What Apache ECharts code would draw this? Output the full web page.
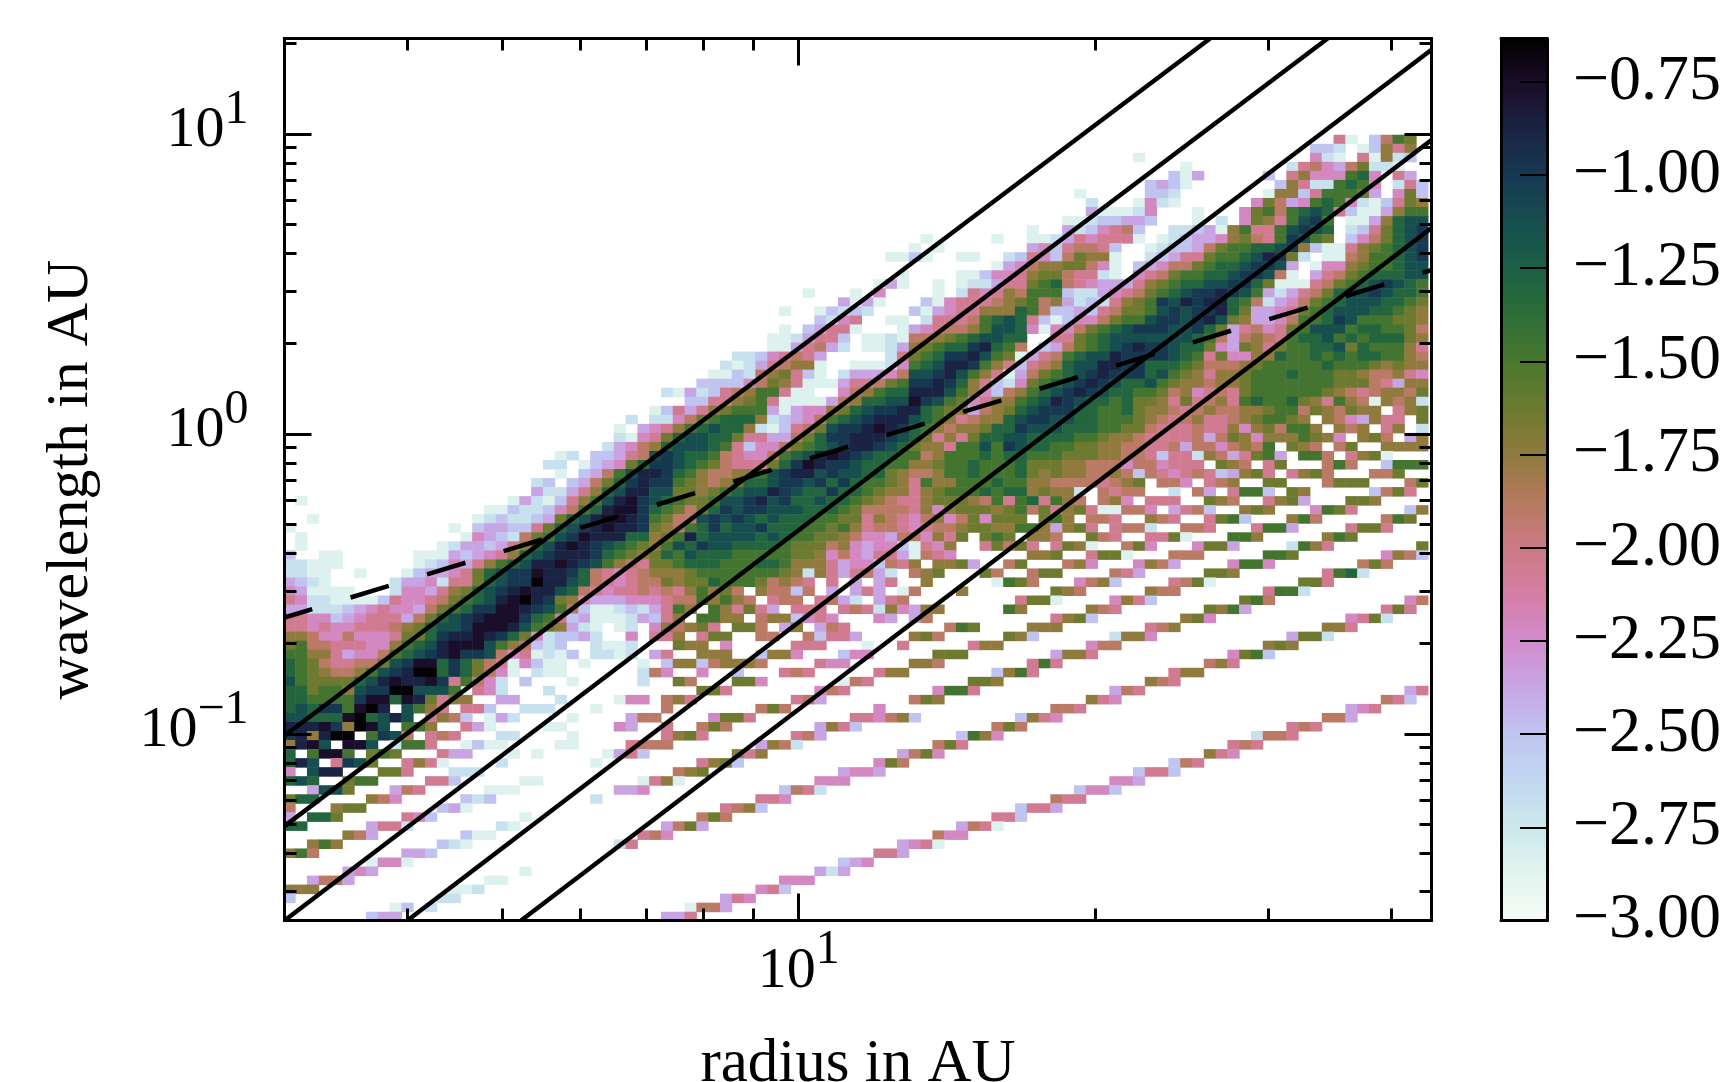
<!DOCTYPE html>
<html>
<head>
<meta charset="utf-8">
<style>
  html, body { margin: 0; background: #fff; }
  #chart { width: 1727px; height: 1082px; }
</style>
<script src="https://cdn.jsdelivr.net/npm/echarts@6/dist/echarts.min.js"></script>
</head>
<body>
<div id="chart"></div>
<script>
// colour level letters and the log value each one stands for
var levelLetters = "abcdefghijklmnop".split("");
var levelValues = [-2.85, -2.7, -2.5, -2.37, -2.22, -2.05, -1.9, -1.75, -1.63, -1.47, -1.3, -1.12, -1.0, -0.88, -0.76, -0.65];

// colourbar stops, from -3.00 up to the top of the bar
var colorStops = ["#f7fcf7", "#e2f4ee", "#cbe8ec", "#c2d8f0", "#bfc4f0", "#c8a6e4", "#d28ccc", "#d47ea6", "#cd7a86", "#b67a60",
  "#917a3e", "#6d7a30", "#4b782e", "#2e6e36", "#1c6044", "#17504e", "#163a52", "#1a2444", "#1a0e2a", "#000000"];

// cells, one string per row from the top: "column:levels" runs
var rowsUpper = [
  "89:fa 92:cgji",
  "87:ccb 91:achfh",
  "72:a 87:eba 91:fahbc",
  "76:a 85:bfgedgibba",
  "75:cad 83:c 85:fheeejke 94:fd",
  "73:cdca 84:chfbbjkje 94:bfc",
  "67:a 73:ccb 83:ahhcfjjjid 94:eic",
  "68:b 72:aeba 82:eigdejkjebacfih",
  "68:daaabe 77:a 81:eijgjklkfcaadhjj",
  "66:aabccddc 77:a 79:b 81:eihfjlmj 90:aadhkll",
  "63:a 66:dbcefgc 75:bbcdahjffjlmlk 90:bcfiklm",
  "54:a 60:a 63:aabdfefffa 74:abcddehigfjmlji 90:cegiklm",
  "53:a 55:a 63:decfggfc 73:abccdgijjkklmhcaafhijklm",
  "51:aaca 57:aa 61:bcfecgihha 73:bcdffijjklnmib 88:aaghjjklm",
  "60:ade 63:ghhiigea 72:cdeggijkklmmld 87:aeehijjkll",
  "52:a 57:aaceef 63:hiigffba 72:efgijjkklmmlga 87:dfgijkkkll",
  "50:ada 55:a 57:abbdff 63:ijkgfedddfhijkkllmmkiaaafgijklmlkj",
  "44:a 48:a 50:e 55:a 57:bfefhg 63:jjjcbbdefgijklmmnmljdbdfgikllmlkkj",
  "47:dada 54:caefffghi 63:jghdbcbfhijmlnmnnkjgbdegijklllkkji",
  "42:a 45:acbcb 53:cadeffhhhk 63:jgccdcfgiijlmlmmnkiddefijklllkkjih",
  "45:cbef 51:aa 54:bfffgjklk 63:fcaceegijjlmmlmnlihddegjjkmljjjiih",
  "42:a 44:cdffa 52:adefgghjllk 63:eaeegijklmmmllmkidfgefijllljkkjjig",
  "41:aabdffc 49:aaba 53:gghijkllkk 65:ffijklllllllkjgdghgfjkkljkjkkkih",
  "41:aadfgdb 49:aabd 53:hijkkmnkjg 64:cdgijklmnmmlkkiedihfijjkklikjjjhf",
  "38:bbcefgfd 51:bf 53:ijkmmnljia 63:dfgjkllnmmmmlkjfieehhkjjkjkjkkjjhg",
  "37:babdfghha 48:aaabe 53:jklnnmjhfc 63:fghkllnnmmkkkjiggghijjjjjkjjjihihh",
  "36:aacbghifca 47:bdddeg 53:llmnljhfad 63:gijklmnmmmkljihfhhijjjkjjjiihgghfe",
  "35:ccccegihfaaadffgijkl 53:mmnmkhfcbe 63:ijklmnmlkkljihhghhijjjjjjjiiigfdhh",
  "32:badbcfghjjfaa 47:eghjkk 53:nnnljhecgh 63:jklmnmlkkjjighefgfijjjjjjihgfghhgi",
  "34:ccffhijfaaaadghkkllm 53:omljiefhhj 63:klnmlkkjkiihfifghfjkjjkihfjhgahghb"
];
var rowsMiddle = [
  "31:acfdfhijjjdadeehiklmmn 53:nkjihdghik 63:lmmmkkjjkihhgfghgghhijjgihgihh 94:fhi",
  "29:b 31:bbegijkkkhbcdegjklmnnn 53:lkjhfghhkl 63:mmllkkjjjihgfghffghijjih 88:hgedhff 96:i",
  "28:a 30:defhjklkkhbacfgilmmnonm 53:kjhghhikkm 63:lllkkkjjiigfffgffhehigjjh 89:hgh 93:fh 96:b",
  "28:baefikllkkiffddgikmmnnnml 53:kifhfikkll 63:kkkkjjihhgffffgdgihehhhjihe 91:hig 95:dh",
  "27:bdeghklllkjfceegijklmnnmlk 53:ihhfjjljml 63:kkjjiihhggffgdggeghgj 85:ihg 89:gi 93:hhhh",
  "23:ab 26:ccdfg 31:lmlkkjgfeegjklnonmlkkj 53:jghjjjkjkk 63:jjjiiihhggfcffbhgdfijd 86:jjg 90:fhia",
  "22:bb 25:acdeik 31:mmlkjigfffikmonmmlkkjj 53:hhijjkjjjk 63:iiihhgggeggefff 79:ihg 83:fi 88:gjg 93:cjjj",
  "23:a 25:cdgjln 31:nmkjhgghhjlmnnlmllkkih 53:gghjjkjjjk 63:ihihhgghgcgfefgfcdhif 85:fhig 92:ggi",
  "21:bc 24:cdgikmn 31:mmjihghikklmmlmkmkjjih 53:fjhhjjjkjj 63:hhggggfghi 74:gge 78:fgh 83:ii 88:giii 95:gi",
  "21:dbbdfhklnn 31:lliihijkllnmlkkmkkjihhfhijjjkjkk 63:hihhb 69:gfgg 75:b 77:gd 80:fjjc 85:ih 92:cgif",
  "1:a 19:adbacfhjlnom 31:lkjiijllmnlmkklkkjihgffhiiihgj 61:fjkfjhg 69:ghe 73:fff 78:ihg 83:fhid 90:iih",
  "17:aacbbcegjknoom 31:kjigikmlmmlllkkkjiggggfhehiiih 61:ijgifhifaagge 75:dfgc 81:hih 87:ejif 95:ch",
  "2:a 16:abcbbcdiklnoonm 31:jigglmlmlklkkkjjiifhgfeghegiei 61:ii 64:ijh 68:ggf 73:hgf 78:fijc 85:hjg 93:gji",
  "0:a 14:a 16:cddccfiklmnonnm 31:ihgjkmkllmkkkjjijhfggfefgghiih 61:hjjhdhif 70:fggb 76:ggf 82:fjjd 90:fiif",
  "1:a 15:aedcbgijlmonnnkk 31:hijnkllllklkjjiihgeedggehfi 59:ij 61:i 63:hhg 68:igf 73:ffia 80:jjh 88:hji",
  "1:a 13:abddcdfhklnonmlkji 31:hjlkmllkkkkjiiighedeec 53:afeh 59:fi 61:gif 65:fiha 71:gie 77:eiid 85:bjhf 96:i",
  "0:c 3:aa 11:aaadcdefhklmnnnmkjih 31:ikjlkkkjjjjjiihegedffdagfe 63:hhi 68:fiia 75:ggg 83:jji 93:ehgc",
  "0:bbaaa 11:abcedfhjklnnonmljhgf 31:iijkkkjjjkkjhhhfdeecgfh 55:hhid 61:gi 66:ghe 72:ehgd 80:ejje 91:gig",
  "0:bbaa 6:a 10:acddefiklmmonnmkgfefg 31:hhhijjjjjjjihbhfdfgdb 53:ghi 59:ig 63:gii 70:gfd 78:iih 88:fjkb",
  "0:dcba 9:bddebffiklmmpnnlkgfefg 31:gihiikjjjighgf 46:f 48:d 50:df 54:h 60:a 61:jig 67:eghc 75:fgia 86:iif",
  "0:edaaaa 9:beedfhiklmnonnlkgfeffg 31:fgfhjhig 40:hggcg 46:d 48:dfd 52:ag 57:h 65:ihg 73:hgg 83:fjjb",
  "0:febbaaaacfeefgijklnopnmihedddee 31:efggjhjhg 41:fgg 45:fgdb 50:dfg 62:fiia 70:ehfc 81:ijg 95:eg",
  "0:ddbbbcdefeedgijkmmoonmljgcaabcb 31:dfjh 36:jhfifd 43:fff 47:fgfbhedhh 61:jh 68:hgf 78:ihjd 93:fif",
  "0:ffeecdefffdgiklmnooomkjfcdaaabd 31:cfh 35:jjhh 40:ghhcefe 50:ed 53:dg 65:fhic 76:hie 90:efib",
  "0:ffefeefffghikllmooonljihdba 28:ab 31:ehghif 38:iig 42:dh 45:dgf 56:gji 63:hhh 73:fgh 88:hhf",
  "0:hhgeegeeefiikmnnonmkiebccdb 29:e 31:ffh 35:fii 40:gg 44:gcffd 53:hig 61:ihc 70:bhhe 85:diib",
  "0:ijggfffeehjklnoooljhgcbc 26:baab 33:ihh 37:e 43:fff 49:a 52:f 58:fhh 68:egg 83:hih",
  "0:jjhhfdeegjklmnommlgefabac 26:bbab 31:df 35:hhh 40:chhe 47:cee 55:iii 65:dhhf 80:eijc",
  "0:kjigffggilmookmkigfaecaa 25:a 30:a 32:chhcghhhg 45:fee 53:hhg 63:fjf 78:ghf"
];
var rowsLower = [
  "0:kjihgghjlmnppkmkigea 21:baa 30:b 31:ge 35:e 38:c 42:fgf 50:fhh 60:chjf 75:fhh",
  "0:ljiiiiklnonnomfjgeb 20:c 24:a 30:b 33:ig 38:iie 47:agf 58:iih 73:hgf",
  "0:kkijjhlmmpplllj 16:feb 22:b 35:iif 45:egf 55:ejjf 70:dgf 95:df",
  "0:kkjjjjmookonifhh 18:dd 23:b 28:aee 32:ghf 43:fgd 53:gih 68:hfe 93:gfc",
  "0:klkmmjopn 10:ljhf 15:ffc 20:bbb 26:a 32:g 40:gig 50:e 65:ggf 90:def",
  "0:llkkkopklnl 12:fhgc 17:adb 24:a 29:dgg 36:eiif 48:ffeghc 62:chfe 88:ggd",
  "0:nnnomhpol 10:jjh 15:fda 22:aa 28:ed 32:f 35:gig 45:dhfc 60:gig 85:fgf",
  "0:mnhnpp 7:jmlg 12:fgf 18:bb 24:a 32:fhif 43:fgd 57:cjhe 82:bggf",
  "0:hnol 5:ool 9:bjjf 15:aca 18:a 23:aa 29:fgg 32:g 40:dhgb 55:gif 80:fgf",
  "0:k 2:joo 5:j 7:iji 13:fdd 19:a 21:a 27:adfc 38:hfh 52:dgie 78:hfe",
  "0:knl 4:fmli 10:fhfa 18:b 26:a 35:fhic 50:eig 75:cgf",
  "0:e 2:lnn 8:iif 14:bbb 33:ghi 47:deed 72:cffc",
  "0:klk 5:ijj 12:ffc 20:aa 30:afha 45:eee 70:eed",
  "2:dlli 9:dgf 17:aaa 28:dde 42:cgfb 67:ceec",
  "0:ikk 7:hge 15:cbc 26:b 40:ffe 65:gff",
  "0:g 4:hii 13:cda 37:fghc 62:cffd",
  "0:d 2:kki 10:fec 20:a 35:gig 60:ffc",
  "0:kk 7:dffb 18:ba 32:dgid 57:dgfa",
  "5:hgd 15:caa 30:fge 55:gee",
  "2:hjh 13:cba 28:bf 52:defa",
  "0:hjg 10:ddc 50:ffd",
  "7:aeea 47:cde",
  "5:ded 20:a 45:dbd",
  "2:dggd 17:aa 42:eee",
  "0:hhh 14:aab 40:efc",
  "0:c 13:bb 37:dfe",
  "9:ac 12:b 34:aggd",
  "7:cdd 32:ddf"
];

// axis limits and ticks, in AU
var radiusLimits = [3, 44];
var wavelengthLimits = [0.0239, 20.81];
var radiusMajor = [10];
var radiusMinor = [4, 5, 6, 7, 8, 9, 20, 30, 40];
var wavelengthMajor = [0.1, 1, 10];
var wavelengthMinor = [0.03, 0.04, 0.05, 0.06, 0.07, 0.08, 0.09, 0.2, 0.3, 0.4, 0.5, 0.6, 0.7, 0.8, 0.9, 2, 3, 4, 5, 6, 7, 8, 9, 20];
var colorbarTicks = [-3, -2.75, -2.5, -2.25, -2, -1.75, -1.5, -1.25, -1, -0.75];

// reference lines: [radius, wavelength] end points
var solidLines = [
  [[3, 0.0987], [26.2, 20.81]],
  [[3, 0.0493], [34.5, 20.81]],
  [[3, 0.0239], [44, 19.1]],
  [[4, 0.0239], [44, 9.55]],
  [[5.22, 0.0239], [44, 4.86]]
];
var dashedLine = [[3, 0.2445], [44, 3.52]];

var FONT = '"Liberation Serif", "Times New Roman", serif';
var ROWS = 87, COLS = 97;

function buildCells() {
  var cells = [];
  rowsUpper.concat(rowsMiddle, rowsLower).forEach(function (row, r) {
    var byCol = {};
    row.split(" ").forEach(function (run) {
      var parts = run.split(":");
      var start = Number(parts[0]);
      parts[1].split("").forEach(function (ch, i) {
        byCol[start + i] = levelValues[levelLetters.indexOf(ch)];
      });
    });
    Object.keys(byCol).forEach(function (c) {
      if (Number(c) < COLS) {
        cells.push([Number(c), ROWS - 1 - r, byCol[c]]);
      }
    });
  });
  return cells;
}

function toLog(line) {
  return line.map(function (p) { return [Math.log10(p[0]), Math.log10(p[1])]; });
}

function powerLabel(v) {
  var e = Math.round(v);
  return "{b|10}{s|" + (e < 0 ? "\u2212" + (-e) : e) + "}";
}

function indexList(n) {
  var out = [];
  for (var i = 0; i < n; i++) out.push(i);
  return out;
}

// one log-scaled axis edge; major ticks are long, minor ones short
function edgeAxis(position, limits, values, tickLen, label) {
  return {
    type: "value",
    gridIndex: 1,
    position: position,
    min: Math.log10(limits[0]),
    max: Math.log10(limits[1]),
    z: 10,
    splitLine: { show: false },
    axisLine: { show: true, onZero: false, lineStyle: { color: "#000", width: 3 } },
    axisTick: {
      show: true,
      inside: true,
      length: tickLen,
      customValues: values.map(Math.log10),
      lineStyle: { color: "#000", width: 3 }
    },
    axisLabel: label || { show: false }
  };
}

function powerAxisLabel(values, margin, padding) {
  return {
    show: true,
    margin: margin,
    padding: padding,
    customValues: values.map(Math.log10),
    formatter: powerLabel,
    color: "#000",
    fontFamily: FONT,
    rich: {
      b: { fontSize: 58, fontFamily: FONT, color: "#000", verticalAlign: "bottom", lineHeight: 74 },
      s: { fontSize: 48, fontFamily: FONT, color: "#000", verticalAlign: "top", lineHeight: 74 }
    }
  };
}

var xBottom = edgeAxis("bottom", radiusLimits, radiusMajor, 27, powerAxisLabel(radiusMajor, 6, 0));
xBottom.name = "radius in AU";
xBottom.nameLocation = "middle";
xBottom.nameGap = 114;
xBottom.nameTextStyle = { fontSize: 61, fontFamily: FONT, color: "#000" };

var yLeft = edgeAxis("left", wavelengthLimits, wavelengthMajor, 27, powerAxisLabel(wavelengthMajor, 36, [0, 0, 22, 0]));
yLeft.name = "wavelength in AU";
yLeft.nameLocation = "middle";
yLeft.nameGap = 183;
yLeft.nameRotate = 90;
yLeft.nameTextStyle = { fontSize: 60, fontFamily: FONT, color: "#000" };

var series = [{
  type: "heatmap",
  xAxisIndex: 0,
  yAxisIndex: 0,
  data: buildCells(),
  progressive: 0,
  silent: true,
  z: 2
}];
solidLines.forEach(function (line) {
  series.push({
    type: "line",
    xAxisIndex: 1,
    yAxisIndex: 1,
    data: toLog(line),
    symbol: "none",
    silent: true,
    z: 5,
    lineStyle: { color: "#000", width: 4.5 }
  });
});
series.push({
  type: "line",
  xAxisIndex: 1,
  yAxisIndex: 1,
  data: toLog(dashedLine),
  symbol: "none",
  silent: true,
  z: 5,
  lineStyle: { color: "#000", width: 4.5, type: [40, 40], dashOffset: 11 }
});

var option = {
  animation: false,
  backgroundColor: "#fff",
  grid: [
    { left: 283.6, top: 135, width: COLS * 11.8, height: 786, outerBoundsMode: "none" },
    { left: 284.5, top: 38.5, width: 1147, height: 882, outerBoundsMode: "none" },
    { left: 1501, top: 38.5, width: 46, height: 882, outerBoundsMode: "none" }
  ],
  xAxis: [
    { type: "category", gridIndex: 0, data: indexList(COLS), show: false },
    xBottom,
    edgeAxis("bottom", radiusLimits, radiusMinor, 12),
    edgeAxis("top", radiusLimits, radiusMajor, 27),
    edgeAxis("top", radiusLimits, radiusMinor, 12),
    { type: "value", gridIndex: 2, position: "bottom", z: 10, splitLine: { show: false }, axisTick: { show: false }, axisLabel: { show: false }, axisLine: { show: true, onZero: false, lineStyle: { color: "#000", width: 3 } } },
    { type: "value", gridIndex: 2, position: "top", z: 10, splitLine: { show: false }, axisTick: { show: false }, axisLabel: { show: false }, axisLine: { show: true, onZero: false, lineStyle: { color: "#000", width: 3 } } }
  ],
  yAxis: [
    { type: "category", gridIndex: 0, data: indexList(ROWS), show: false },
    yLeft,
    edgeAxis("left", wavelengthLimits, wavelengthMinor, 12),
    edgeAxis("right", wavelengthLimits, wavelengthMajor, 27),
    edgeAxis("right", wavelengthLimits, wavelengthMinor, 12),
    {
      type: "value", gridIndex: 2, position: "right", min: -3, max: -0.634, z: 10,
      splitLine: { show: false },
      axisLine: { show: true, onZero: false, lineStyle: { color: "#000", width: 3 } },
      axisTick: { show: true, inside: true, length: 27, customValues: colorbarTicks, lineStyle: { color: "#000", width: 2 } },
      axisLabel: {
        show: true,
        margin: 26,
        customValues: colorbarTicks,
        fontSize: 64,
        fontFamily: FONT,
        color: "#000",
        formatter: function (v) { return "\u2212" + Math.abs(v).toFixed(2); }
      }
    },
    { type: "value", gridIndex: 2, position: "left", min: -3, max: -0.634, z: 10, splitLine: { show: false }, axisTick: { show: false }, axisLabel: { show: false }, axisLine: { show: true, onZero: false, lineStyle: { color: "#000", width: 3 } } }
  ],
  visualMap: {
    type: "continuous",
    seriesIndex: 0,
    min: -3,
    max: -0.634,
    left: 1501,
    top: 38.5,
    padding: 0,
    itemWidth: 46,
    itemHeight: 882,
    text: null,
    calculable: false,
    hoverLink: false,
    realtime: false,
    inRange: { color: colorStops }
  },
  series: series
};

var chart = echarts.init(document.getElementById("chart"));
chart.setOption(option);
</script>
</body>
</html>
